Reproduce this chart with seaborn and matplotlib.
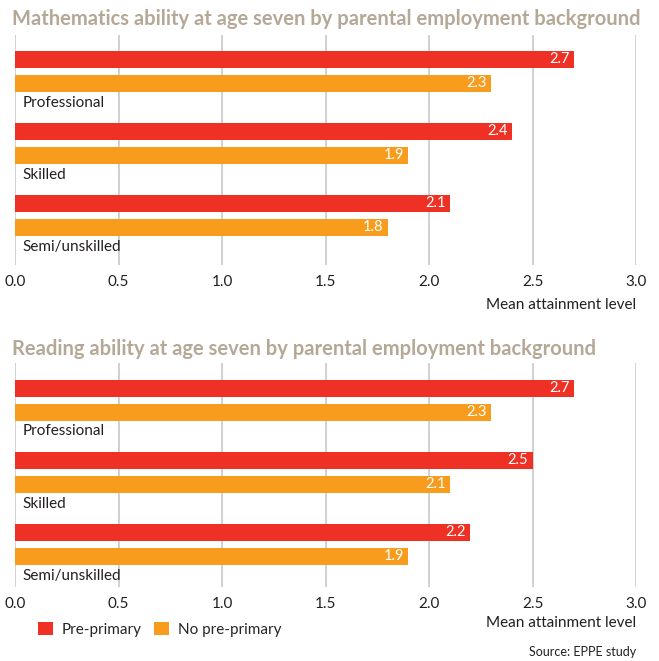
import matplotlib
matplotlib.use("Agg")
import matplotlib.pyplot as plt
from matplotlib import font_manager
import pandas as pd
import seaborn as sns

# Data
groups = ["Professional", "Skilled", "Semi/unskilled"]
series = ["Pre-primary", "No pre-primary"]
maths_pre = [2.7, 2.4, 2.1]
maths_none = [2.3, 1.9, 1.8]
reading_pre = [2.7, 2.5, 2.2]
reading_none = [2.3, 2.1, 1.9]
x_ticks = [0.0, 0.5, 1.0, 1.5, 2.0, 2.5, 3.0]
titles = ["Mathematics ability at age seven by parental employment background",
          "Reading ability at age seven by parental employment background"]
x_label = "Mean attainment level"
source = "Source: EPPE study"

RED = "#EE3124"
ORANGE = "#F89C1E"
TITLE_C = "#B5A896"
TEXT_C = "#231F20"
GRID_C = "#D0D0D0"

sns.set_theme(style="white")
installed = {f.name for f in font_manager.fontManager.ttflist}
BODY = "Lato" if "Lato" in installed else "DejaVu Sans"
plt.rcParams["font.family"] = [BODY, "DejaVu Sans"]
FS = 11


def frame(pre, none):
    rows = []
    for g, (a, b) in enumerate(zip(pre, none)):
        rows.append({"pos": 3 * g, "value": a, "series": series[0], "group": groups[g]})
        rows.append({"pos": 3 * g + 1, "value": b, "series": series[1], "group": groups[g]})
    return pd.DataFrame(rows)


W, H = 659, 661
fig = plt.figure(figsize=(W / 100, H / 100), dpi=100)

left, right = 15, 636
panels = [
    dict(pre=maths_pre, none=maths_none, top=35, bottom=265, ylim=(8.57, -1.02),
         title_y=19, xlab_y=305, legend=False),
    dict(pre=reading_pre, none=reading_none, top=363, bottom=587, ylim=(8.27, -1.05),
         title_y=349, xlab_y=623, legend=True),
]

title_kw = dict(fontsize=14.5, fontweight="bold", color=TITLE_C, va="center", ha="left")

for i, p in enumerate(panels):
    ax = fig.add_axes([left / W, 1 - p["bottom"] / H, (right - left) / W,
                       (p["bottom"] - p["top"]) / H])
    df = frame(p["pre"], p["none"])
    sns.barplot(data=df, x="value", y="pos", hue="series", orient="h",
                native_scale=True, dodge=False, width=0.7,
                palette=[RED, ORANGE], hue_order=series, saturation=1,
                linewidth=0, ax=ax, legend=p["legend"])
    ax.set_xlim(0, 3.0)
    ax.set_ylim(*p["ylim"])
    ax.set_xticks(x_ticks)
    ax.set_xticklabels([f"{t:.1f}" for t in x_ticks])
    ax.set_yticks([])
    ax.set_xlabel("")
    ax.set_ylabel("")
    for s in ax.spines.values():
        s.set_visible(False)
    ax.grid(False)
    for t in x_ticks:
        ax.axvline(t, color=GRID_C, lw=1.4, zorder=0)
    ax.tick_params(axis="x", length=0, pad=7, labelsize=FS, labelcolor=TEXT_C)

    # value labels inside bar ends
    for _, r in df.iterrows():
        ax.text(r["value"] - 0.02, r["pos"], f"{r['value']:.1f}", color="white",
                fontsize=10.5, ha="right", va="center")
    # group labels below each pair
    for g, name in enumerate(groups):
        ax.text(0.035, 3 * g + 1.8, name, color=TEXT_C, fontsize=FS,
                ha="left", va="center")

    fig.text(12 / W, 1 - p["title_y"] / H, titles[i], **title_kw)
    fig.text(right / W, 1 - p["xlab_y"] / H, x_label, color=TEXT_C, fontsize=FS,
             ha="right", va="center")

    if p["legend"]:
        sns.move_legend(ax, "center left", bbox_to_anchor=(23 / (right - left), -0.188),
                        ncol=2, frameon=False, title=None, fontsize=FS,
                        handlelength=1.0, handleheight=1.0, handletextpad=0.55,
                        columnspacing=0.8, borderaxespad=0, borderpad=0)

fig.text(right / W, 1 - 652 / H, source, color=TEXT_C, fontsize=9,
         ha="right", va="center")

fig.savefig("out.png", dpi=100)
